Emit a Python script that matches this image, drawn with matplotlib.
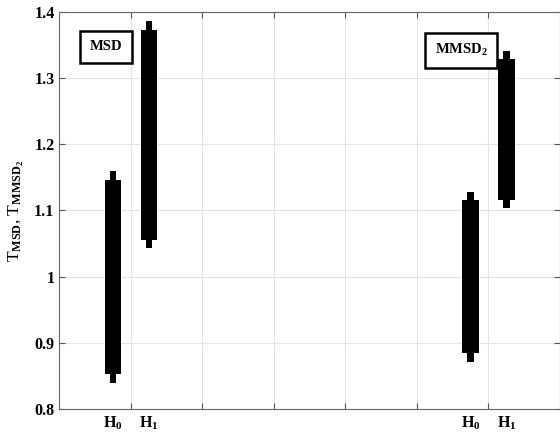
import numpy as np
import matplotlib
matplotlib.use('Agg')
import matplotlib.pyplot as plt

plt.rcParams['font.family'] = 'Liberation Serif'
plt.rcParams['font.weight'] = 'bold'
plt.rcParams['mathtext.fontset'] = 'custom'
plt.rcParams['mathtext.rm'] = 'Liberation Serif:bold'
plt.rcParams['mathtext.it'] = 'Liberation Serif:bold'
plt.rcParams['mathtext.bf'] = 'Liberation Serif:bold'

# positions of the four boxes and their labels
positions = [0.75, 1.25, 5.75, 6.25]
group_labels = ['H$_0$', 'H$_1$', 'H$_0$', 'H$_1$']
# box (thick part) limits
box_low = [0.853, 1.056, 0.885, 1.116]
box_high = [1.146, 1.373, 1.116, 1.329]
# whisker (thin part) limits
whisk_low = [0.840, 1.043, 0.872, 1.103]
whisk_high = [1.159, 1.386, 1.128, 1.341]

fig = plt.figure(figsize=(5.6, 4.32), dpi=100)
ax = fig.add_axes([0.106, 0.0525, 0.894, 0.9206])

pos = np.array(positions)
wl, wh = np.array(whisk_low), np.array(whisk_high)
bl, bh = np.array(box_low), np.array(box_high)
ax.bar(pos, wh - wl, bottom=wl, width=0.09, color='black', zorder=3)
ax.bar(pos, bh - bl, bottom=bl, width=0.23, color='black', zorder=3)

ax.set_xlim(0, 7)
ax.set_ylim(0.8, 1.4)
ax.set_xticks([1, 2, 3, 4, 5, 6])
ax.set_xticklabels([])
ax.set_xticks(positions, group_labels, minor=True)
ax.tick_params(axis='x', which='minor', length=0, labelsize=11.5, pad=4)
ax.set_yticks([0.8, 0.9, 1.0, 1.1, 1.2, 1.3, 1.4])
ax.set_yticklabels(['0.8', '0.9', '1', '1.1', '1.2', '1.3', '1.4'], fontsize=11.5)
ax.tick_params(axis='both', which='major', direction='in', top=True, right=True,
               length=4, color='#555555')
ax.grid(True, which='major', color='#e3e3e3', linewidth=0.8)
ax.set_axisbelow(True)
for s in ax.spines.values():
    s.set_color('#666666')
    s.set_linewidth(0.8)

ax.set_ylabel(r'T$_{\mathrm{MSD}}$, T$_{\mathrm{MMSD}_2}$', fontsize=12.5, labelpad=6)

box = dict(boxstyle='square,pad=0.65', facecolor='white', edgecolor='black', linewidth=1.8)
ax.text(0.652, 1.347, 'MSD', fontsize=10.5, ha='center', va='center', bbox=box)
ax.text(5.62, 1.342, 'MMSD$_2$', fontsize=10.5, ha='center', va='center', bbox=box)

fig.savefig('out.png', dpi=100)
